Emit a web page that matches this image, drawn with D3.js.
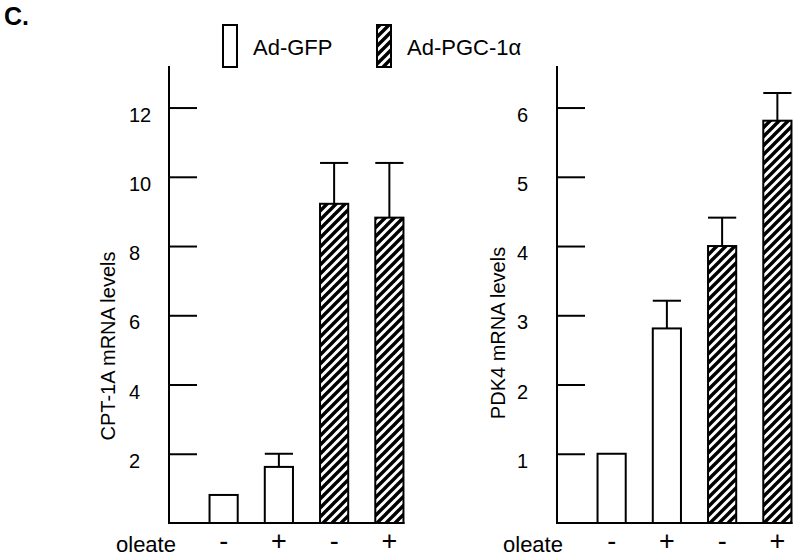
<!DOCTYPE html>
<meta charset="utf-8">
<head>
    <script src="https://d3js.org/d3.v7.min.js"></script>
    <style>
        body { margin: 0; background: #fff; }
        text { font-family: "Liberation Sans", Arial, Helvetica, sans-serif; fill: #000; }
        .axis line, .axis path { stroke: #000; stroke-width: 2px; }
    </style>
    <title>CPT-1A and PDK4 mRNA levels</title>
</head>
<body>
<svg id="chart" width="800" height="559"></svg>

<script>
    // data
    var oleate = ["-", "+", "-", "+"];
    var groups = ["Ad-GFP", "Ad-GFP", "Ad-PGC-1α", "Ad-PGC-1α"];
    var cptMean = [0.81, 1.62, 9.22, 8.82];
    var cptErr = [0, 0.38, 1.18, 1.58];
    var pdkMean = [1.0, 2.81, 4.0, 5.81];
    var pdkErr = [0, 0.40, 0.41, 0.40];
    var cptTicks = [2, 4, 6, 8, 10, 12];
    var pdkTicks = [1, 2, 3, 4, 5, 6];
    var legendLabels = ["Ad-GFP", "Ad-PGC-1α"];

    var svg = d3.select("#chart");

    // hatch pattern for Ad-PGC-1a
    var hp = 9;
    svg.append("defs").append("pattern")
        .attr("id", "hatch")
        .attr("patternUnits", "userSpaceOnUse")
        .attr("width", hp)
        .attr("height", hp)
        .append("path")
        .attr("d", "M-2,2 l4,-4 M0," + hp + " l" + hp + ",-" + hp + " M" + (hp - 2) + "," + (hp + 2) + " l4,-4")
        .attr("stroke", "#000")
        .attr("stroke-width", 3.4);

    function fillFor(g) {
        return g === "Ad-GFP" ? "#fff" : "url(#hatch)";
    }

    svg.append("text")
        .attr("x", 4).attr("y", 25)
        .style("font-size", "25px").style("font-weight", "bold")
        .text("C.");

    // legend
    var legendX = [223, 377];
    legendLabels.forEach(function (l, i) {
        svg.append("rect")
            .attr("x", legendX[i]).attr("y", 25)
            .attr("width", 14).attr("height", 42)
            .attr("fill", fillFor(l))
            .attr("stroke", "#000").attr("stroke-width", 2);
        svg.append("text")
            .attr("x", legendX[i] + 30).attr("y", 55)
            .style("font-size", "22px")
            .text(l);
    });

    function panel(opts) {
        var x0 = opts.axisX, base = 523;
        var y = d3.scaleLinear().domain([0, opts.max]).range([base, 66]);
        var x = d3.scaleBand()
            .domain(d3.range(oleate.length))
            .range([x0 + 27, x0 + 248])
            .paddingInner(0.49)
            .paddingOuter(0.245);

        var g = svg.append("g");

        // y axis: ticks point inward
        var yAxis = g.append("g")
            .attr("class", "axis")
            .attr("transform", "translate(" + x0 + ",0)")
            .call(d3.axisRight(y).tickValues(opts.ticks).tickSize(28).tickFormat(""));
        yAxis.select(".domain").remove();
        g.append("line")
            .attr("x1", x0).attr("x2", x0)
            .attr("y1", 66).attr("y2", base + 1)
            .attr("stroke", "#000").attr("stroke-width", 2);

        g.selectAll(".ylab")
            .data(opts.ticks)
            .enter().append("text")
            .attr("x", x0 - 40)
            .attr("y", function (d) { return y(d) + 14; })
            .style("font-size", "20px")
            .text(function (d) { return d; });

        // baseline
        g.append("line")
            .attr("x1", x0 - 1).attr("x2", x(oleate.length - 1) + x.bandwidth() + 1)
            .attr("y1", base).attr("y2", base)
            .attr("stroke", "#000").attr("stroke-width", 2);

        // error bars (upper only)
        var idx = d3.range(opts.mean.length).filter(function (i) { return opts.err[i] > 0; });
        var err = g.selectAll(".err")
            .data(idx)
            .enter().append("g");
        err.append("line")
            .attr("x1", function (i) { return x(i) + x.bandwidth() / 2; })
            .attr("x2", function (i) { return x(i) + x.bandwidth() / 2; })
            .attr("y1", function (i) { return y(opts.mean[i]); })
            .attr("y2", function (i) { return y(opts.mean[i] + opts.err[i]); })
            .attr("stroke", "#000").attr("stroke-width", 2);
        err.append("line")
            .attr("x1", function (i) { return x(i); })
            .attr("x2", function (i) { return x(i) + x.bandwidth(); })
            .attr("y1", function (i) { return y(opts.mean[i] + opts.err[i]); })
            .attr("y2", function (i) { return y(opts.mean[i] + opts.err[i]); })
            .attr("stroke", "#000").attr("stroke-width", 2);

        // bars
        g.selectAll(".bar")
            .data(opts.mean)
            .enter().append("rect")
            .attr("x", function (d, i) { return x(i); })
            .attr("y", function (d) { return y(d); })
            .attr("width", x.bandwidth())
            .attr("height", function (d) { return base - y(d); })
            .attr("fill", function (d, i) { return fillFor(groups[i]); })
            .attr("stroke", "#000").attr("stroke-width", 2);

        // oleate labels
        g.selectAll(".ole")
            .data(oleate)
            .enter().append("text")
            .attr("x", function (d, i) { return x(i) + x.bandwidth() / 2; })
            .attr("y", 550)
            .attr("text-anchor", "middle")
            .style("font-size", "27px")
            .text(function (d) { return d; });

        g.append("text")
            .attr("x", opts.oleX).attr("y", 552)
            .attr("text-anchor", "middle")
            .style("font-size", "22px")
            .text("oleate");

        g.append("text")
            .attr("transform", "translate(" + opts.titleX + "," + opts.titleY + ") rotate(-90)")
            .attr("text-anchor", "middle")
            .style("font-size", "20px")
            .text(opts.title);
    }

    panel({axisX: 169, max: 13.2, mean: cptMean, err: cptErr, ticks: cptTicks,
           title: "CPT-1A mRNA levels", titleX: 115, titleY: 346, oleX: 146});
    panel({axisX: 557, max: 6.6, mean: pdkMean, err: pdkErr, ticks: pdkTicks,
           title: "PDK4 mRNA levels", titleX: 505, titleY: 333, oleX: 533});
</script>
</body>
